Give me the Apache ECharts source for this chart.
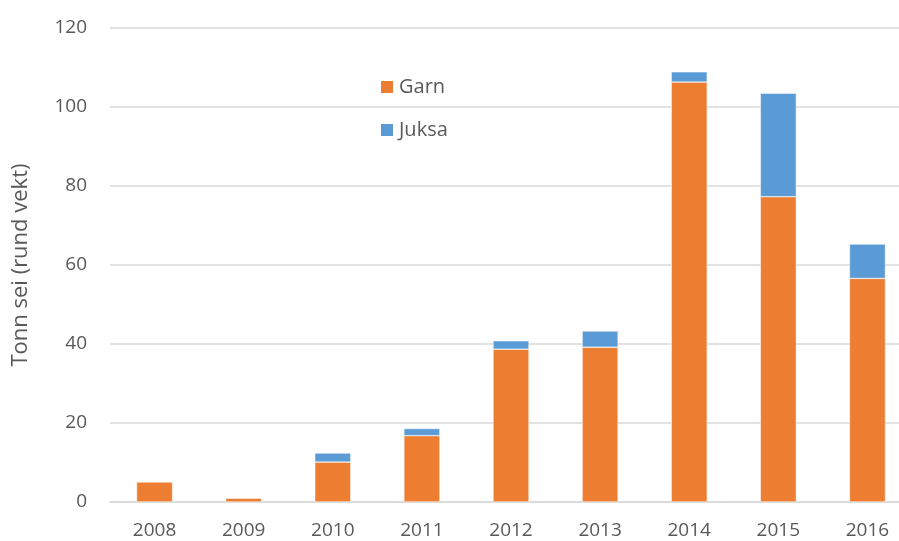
<!DOCTYPE html>
<html>
<head>
<meta charset="utf-8">
<script src="https://cdn.jsdelivr.net/npm/echarts@6/dist/echarts.min.js"></script>
<style>
  html, body { margin: 0; padding: 0; background: #fff; }
  #chart { width: 899px; height: 541px; }
</style>
</head>
<body>
<div id="chart"></div>
<script>
const years = ['2008', '2009', '2010', '2011', '2012', '2013', '2014', '2015', '2016'];
const garn = [5.1, 1.0, 10.1, 16.8, 38.7, 39.2, 106.3, 77.3, 56.6];
const juksa = [0, 0, 2.3, 1.8, 2.1, 4.1, 2.6, 26.2, 8.7];
const yTicks = { min: 0, max: 120, interval: 20 };

const font = 'Open Sans, Noto Sans, sans-serif';
const chart = echarts.init(document.getElementById('chart'));

chart.setOption({
  animation: false,
  textStyle: { fontFamily: font },
  grid: { left: 110, top: 28, width: 802, height: 474, outerBoundsMode: 'none', containLabel: false },
  legend: {
    orient: 'vertical',
    left: 374,
    top: 72,
    itemWidth: 14,
    itemHeight: 14,
    itemGap: 23,
    icon: 'rect',
    textStyle: { fontSize: 20, color: '#595959', fontFamily: font },
    data: ['Garn', 'Juksa']
  },
  xAxis: {
    type: 'category',
    data: years,
    axisLine: { lineStyle: { color: '#D9D9D9', width: 1.5 } },
    axisTick: { show: false },
    axisLabel: { fontSize: 19, color: '#595959', margin: 19 }
  },
  yAxis: {
    type: 'value',
    min: yTicks.min,
    max: yTicks.max,
    interval: yTicks.interval,
    name: 'Tonn sei (rund vekt)',
    nameLocation: 'middle',
    nameGap: 78,
    nameTextStyle: { fontSize: 22, color: '#595959' },
    axisLine: { show: false },
    axisTick: { show: false },
    axisLabel: { fontSize: 19, color: '#595959', margin: 23 },
    splitLine: { lineStyle: { color: '#D9D9D9', width: 1.5 } }
  },
  series: [
    {
      name: 'Garn',
      type: 'bar',
      stack: 'total',
      barWidth: 36,
      data: garn,
      itemStyle: { color: '#ED7D31', borderColor: '#fff', borderWidth: 0.5 }
    },
    {
      name: 'Juksa',
      type: 'bar',
      stack: 'total',
      barWidth: 36,
      data: juksa,
      itemStyle: { color: '#5B9BD5', borderColor: '#fff', borderWidth: 0.5 }
    }
  ]
});
</script>
</body>
</html>
